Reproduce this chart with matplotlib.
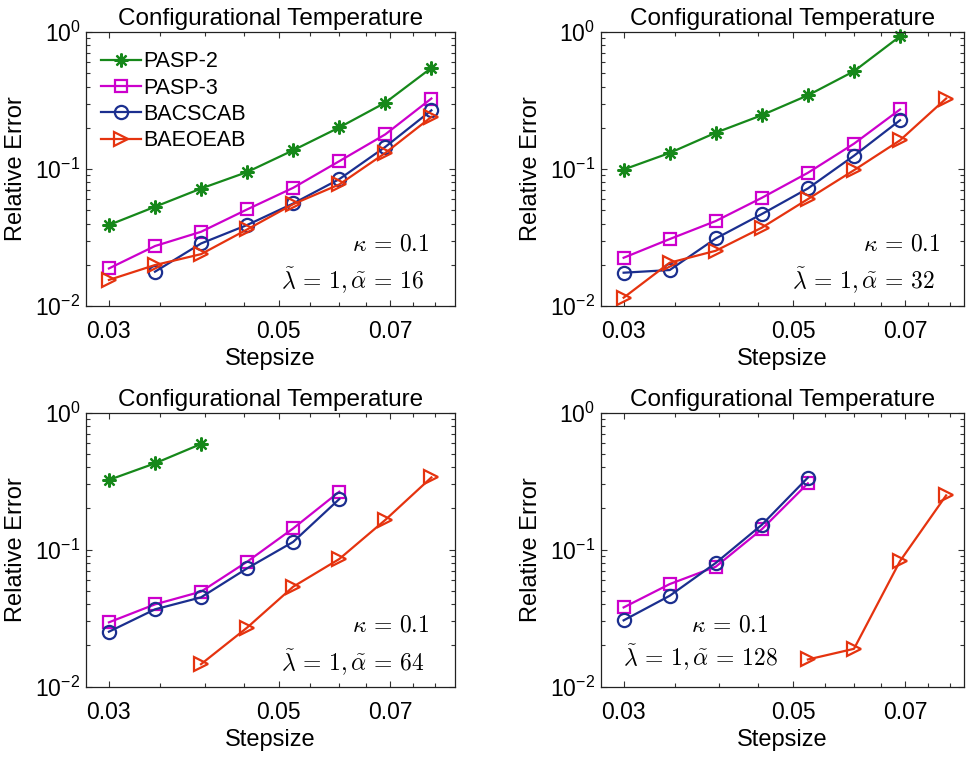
import numpy as np
import matplotlib
matplotlib.use("Agg")
import matplotlib.pyplot as plt
from matplotlib.ticker import FixedLocator, NullFormatter, LogLocator, FixedFormatter

plt.rcParams['font.family'] = ['Liberation Sans', 'DejaVu Sans']
plt.rcParams['mathtext.fontset'] = 'custom'
plt.rcParams['mathtext.rm'] = 'Liberation Sans'
plt.rcParams['mathtext.it'] = 'Liberation Sans:italic'
plt.rcParams['mathtext.bf'] = 'Liberation Sans:bold'

# step sizes (geometric)
stepsizes = [0.03, 0.03446, 0.03958, 0.04547, 0.05223, 0.06, 0.06892, 0.07917]

series_names = ["PASP-2", "PASP-3", "BACSCAB", "BAEOEAB"]

# alpha = 16
a16_pasp2 = [0.039, 0.053, 0.072, 0.095, 0.137, 0.201, 0.305, 0.547]
a16_pasp3 = [0.0188, 0.0274, 0.0348, 0.0507, 0.0729, 0.114, 0.179, 0.327]
a16_bacscab = [None, 0.0178, 0.0286, 0.039, 0.056, 0.0843, 0.145, 0.268]
a16_baeoeab = [0.0155, 0.0199, 0.0239, 0.0362, 0.0554, 0.0771, 0.131, 0.240]

# alpha = 32
a32_pasp2 = [0.0991, 0.131, 0.184, 0.247, 0.345, 0.517, 0.93, None]
a32_pasp3 = [0.0225, 0.0308, 0.0417, 0.0616, 0.0938, 0.153, 0.272, None]
a32_bacscab = [0.0175, 0.0183, 0.0311, 0.0469, 0.0721, 0.125, 0.227, None]
a32_baeoeab = [0.0115, 0.0207, 0.0253, 0.0373, 0.0603, 0.098, 0.162, 0.327]

# alpha = 64
a64_pasp2 = [0.323, 0.427, 0.591, None, None, None, None, None]
a64_pasp3 = [0.0295, 0.0399, 0.0494, 0.0817, 0.143, 0.265, None, None]
a64_bacscab = [0.0252, 0.0367, 0.0449, 0.0731, 0.114, 0.234, None, None]
a64_baeoeab = [None, None, 0.0146, 0.027, 0.0537, 0.0855, 0.165, 0.337]

# alpha = 128
a128_pasp2 = [None] * 8
a128_pasp3 = [0.0379, 0.0561, 0.0751, 0.141, 0.305, None, None, None]
a128_bacscab = [0.0305, 0.0461, 0.080, 0.152, 0.336, None, None, None]
a128_baeoeab = [None, None, None, None, 0.0158, 0.0189, 0.0826, 0.249]

alphas = [16, 32, 64, 128]
panel_data = [
    [a16_pasp2, a16_pasp3, a16_bacscab, a16_baeoeab],
    [a32_pasp2, a32_pasp3, a32_bacscab, a32_baeoeab],
    [a64_pasp2, a64_pasp3, a64_bacscab, a64_baeoeab],
    [a128_pasp2, a128_pasp3, a128_bacscab, a128_baeoeab],
]

colors = ["#16881a", "#cc00cc", "#1b2f8f", "#e5330f"]
markers = [(8, 2, 0), "s", "o", ">"]
msizes = [10, 8, 9.5, 10]

W, H = 966, 759
fig = plt.figure(figsize=(W / 100, H / 100), dpi=100)

axh = 274 / H
lefts = [86 / W, 600.7 / W]
widths = [369 / W, 363.5 / W]
xmax = [0.085, 0.0836]
bottoms = [1 - 306 / H, 1 - 686.7 / H]

# text positions (axes fraction): (x_kappa, y_kappa, x_lam, y_lam, ha)
text_pos = [
    (0.932, 0.223, 0.916, 0.091, 'right'),
    (0.935, 0.223, 0.918, 0.091, 'right'),
    (0.932, 0.222, 0.916, 0.088, 'right'),
    (0.248, 0.225, 0.060, 0.105, 'left'),
]

fs = 16.5
for i in range(4):
    r, c = divmod(i, 2)
    ax = fig.add_axes([lefts[c], bottoms[r], widths[c], axh])
    for j in range(4):
        ys = np.array([np.nan if v is None else v for v in panel_data[i][j]], dtype=float)
        ax.plot(stepsizes, ys, color=colors[j], marker=markers[j], markersize=msizes[j],
                markerfacecolor='none', markeredgecolor=colors[j], markeredgewidth=1.6,
                linewidth=1.6, label=series_names[j], clip_on=False)
    ax.set_xscale('log')
    ax.set_yscale('log')
    ax.set_xlim(0.028, xmax[c])
    ax.set_ylim(0.01, 1.0)
    ax.xaxis.set_major_locator(FixedLocator([0.03, 0.05, 0.07]))
    ax.xaxis.set_major_formatter(FixedFormatter(['0.03', '0.05', '0.07']))
    ax.xaxis.set_minor_locator(FixedLocator([0.035, 0.04, 0.045, 0.055, 0.06, 0.065, 0.075, 0.08]))
    ax.xaxis.set_minor_formatter(NullFormatter())
    ax.yaxis.set_major_locator(LogLocator(base=10, numticks=5))
    ax.yaxis.set_minor_locator(LogLocator(base=10, subs=np.arange(2, 10), numticks=20))
    ax.yaxis.set_minor_formatter(NullFormatter())
    ax.tick_params(which='both', direction='in', top=True, right=True, labelsize=fs,
                   width=0.8, color='#333333')
    ax.tick_params(which='major', length=4)
    ax.tick_params(which='minor', length=3)
    ax.tick_params(axis='x', pad=10)
    ax.tick_params(axis='y', pad=4)
    for sp in ax.spines.values():
        sp.set_linewidth(0.9)
        sp.set_color('#222222')
    ax.set_title("Configurational Temperature", fontsize=17.5, pad=5)
    ax.set_xlabel("Stepsize", fontsize=17, labelpad=4)
    ax.set_ylabel("Relative Error", fontsize=17, labelpad=6)
    xk, yk, xl, yl, ha = text_pos[i]
    ax.text(xk, yk, r'$\kappa\,=\,0.1$', transform=ax.transAxes, ha=ha, va='center',
            fontsize=17, math_fontfamily='cm')
    ax.text(xl, yl, r'$\tilde{\lambda}\,=\,1, \tilde{\alpha}\,=\,%d$' % alphas[i],
            transform=ax.transAxes, ha=ha, va='center', fontsize=17, math_fontfamily='cm')
    if i == 0:
        ax.legend(loc='upper left', frameon=False, fontsize=15.5, handlelength=1.85,
                  handletextpad=0.12, labelspacing=0.25, borderaxespad=0.3,
                  bbox_to_anchor=(0.0, 0.985))

fig.savefig("out.png", dpi=100)
